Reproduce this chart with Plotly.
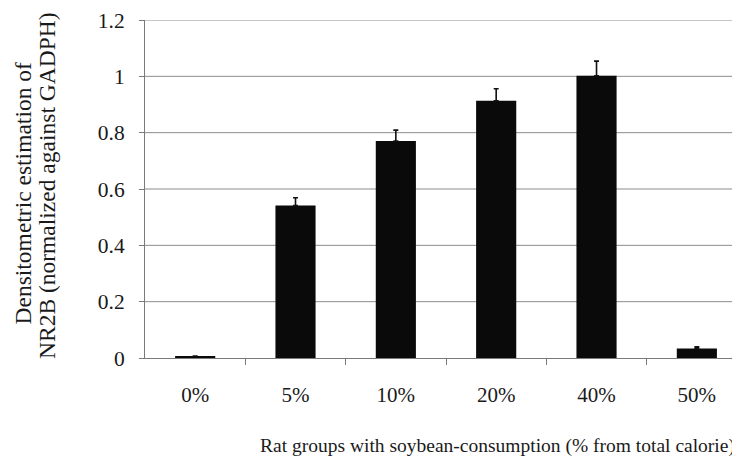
import plotly.graph_objects as go

categories = ["0%", "5%", "10%", "20%", "40%", "50%"]
values = [0.007, 0.541, 0.770, 0.913, 1.002, 0.034]
errors = [0.0, 0.028, 0.039, 0.043, 0.052, 0.006]
ytick_vals = [0, 0.2, 0.4, 0.6, 0.8, 1.0, 1.2]
ytick_text = ["0", "0.2", "0.4", "0.6", "0.8", "1", "1.2"]

FONT = "Liberation Serif"
TXT = "#1a1a1a"
AXIS = "#7a7a7a"
GRID = "#8c8c8c"

# the page body has an 8px margin; the figure is sized so it fits the 740x459 window
PW, PH = 595, 338
XRANGE = [-0.5, 5.43]

xpos = list(range(len(categories)))
boundaries = [i + 0.5 for i in xpos]

fig = go.Figure()
fig.add_bar(
    x=xpos, y=values, width=0.4,
    marker=dict(color="#0a0a0a", line=dict(width=0)),
    error_y=dict(type="data", array=errors, arrayminus=[0] * len(errors),
                 symmetric=False, color="#111111", thickness=1.6, width=2.5),
)

# horizontal gridlines on the axis scales (drawn inside the subplot, below the bars)
for v in ytick_vals[1:]:
    fig.add_shape(type="line", xref="x", x0=XRANGE[0], x1=XRANGE[1],
                  yref="y", y0=v, y1=v,
                  line=dict(color=GRID, width=1), layer="below")

fig.update_layout(
    template="none",
    width=732, height=451,
    margin=dict(l=137, r=0, t=12, b=101, pad=0),
    paper_bgcolor="white", plot_bgcolor="white",
    showlegend=False,
    font=dict(family=FONT, color=TXT, size=21),
    xaxis=dict(range=XRANGE, showline=True,
               linecolor=AXIS, linewidth=1,
               tickmode="array", tickvals=xpos, ticktext=categories,
               ticks="outside", ticklen=18, tickcolor="rgba(0,0,0,0)",
               minor=dict(tickmode="array", tickvals=boundaries, ticks="outside",
                          ticklen=6, tickcolor=AXIS, showgrid=False),
               showgrid=False, zeroline=False,
               tickfont=dict(family=FONT, size=21, color=TXT)),
    yaxis=dict(range=[0, 1.2], tickmode="array", tickvals=ytick_vals,
               ticktext=ytick_text,
               showline=True, linecolor=AXIS, linewidth=1,
               ticks="outside", ticklen=15, tickcolor="rgba(0,0,0,0)",
               minor=dict(tickmode="array", tickvals=ytick_vals, ticks="outside",
                          ticklen=5, tickcolor=AXIS, showgrid=False),
               showgrid=False, zeroline=False,
               tickfont=dict(family=FONT, size=21.5, color=TXT)),
    annotations=[
        dict(text="Rat groups with soybean-consumption (% from total calorie)",
             xref="paper", yref="paper", x=(497 - 145) / PW, y=(358 - 446) / PH,
             xanchor="center", yanchor="middle", showarrow=False,
             font=dict(family=FONT, size=19.5, color=TXT)),
        dict(text="Densitometric estimation of",
             xref="paper", yref="paper", x=(22 - 145) / PW, y=(358 - 193.5) / PH,
             xanchor="center", yanchor="middle", textangle=-90, showarrow=False,
             font=dict(family=FONT, size=23.5, color=TXT)),
        dict(text="NR2B (normalized against GADPH)",
             xref="paper", yref="paper", x=(47 - 145) / PW, y=(358 - 186) / PH,
             xanchor="center", yanchor="middle", textangle=-90, showarrow=False,
             font=dict(family=FONT, size=23.5, color=TXT)),
    ],
)

fig.write_html("out.html")
